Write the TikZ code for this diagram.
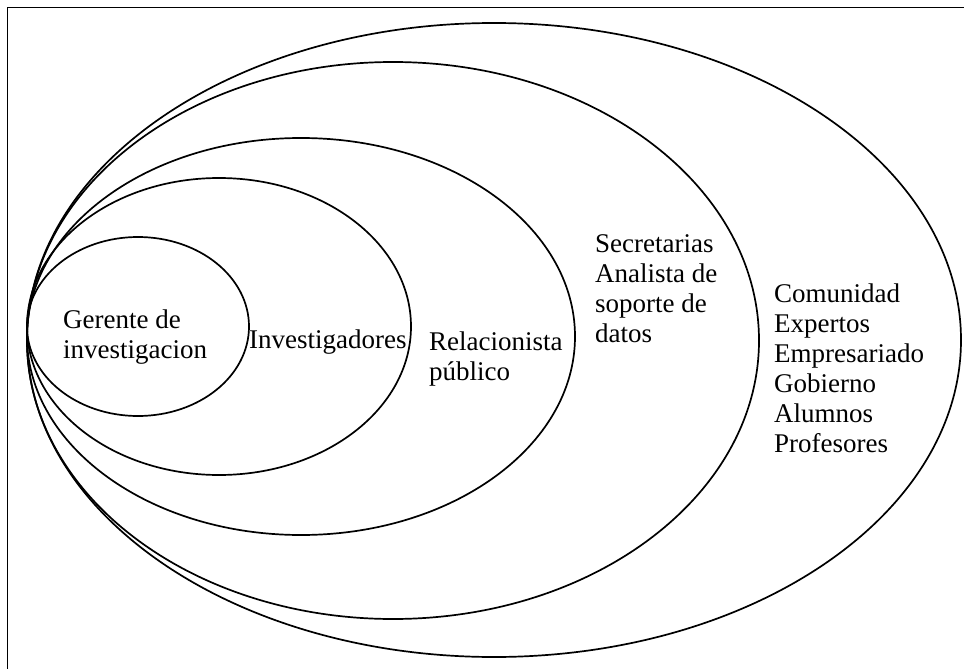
\documentclass[tikz,border=0pt]{standalone}
\usepackage{fontspec}
\setmainfont{Liberation Serif}
\begin{document}
\begin{tikzpicture}[x=1pt,y=-1pt,
  ring/.style={draw=black,line width=1.7pt},
  lbl/.style={anchor=north west,inner sep=0pt,align=left,font=\fontsize{27}{30}\selectfont}]
\useasboundingbox (0,0) rectangle (964,669);
\draw[line width=1.8pt] (7.5,7.5) rectangle (1000,700);
\draw[ring] (494,340) ellipse [x radius=467pt,y radius=317pt];
\draw[ring] (393,340.5) ellipse [x radius=366pt,y radius=278.5pt];
\draw[ring] (301,336.5) ellipse [x radius=274pt,y radius=198.5pt];
\draw[ring] (219,326.5) ellipse [x radius=192pt,y radius=148.5pt];
\draw[ring] (138,326.5) ellipse [x radius=111pt,y radius=89.5pt];
\node[lbl] (gerente) at (63,307) {\strut Gerente de\\investigacion};
\node[lbl] (invest) at (249,327) {\strut Investigadores};
\node[lbl] (relac) at (429,329) {\strut Relacionista\\público};
\node[lbl] (secre) at (595,231) {\strut Secretarias\\Analista de\\soporte de\\datos};
\node[lbl] (comun) at (774,281) {\strut Comunidad\\Expertos\\Empresariado\\Gobierno\\Alumnos\\Profesores};
\end{tikzpicture}
\end{document}
